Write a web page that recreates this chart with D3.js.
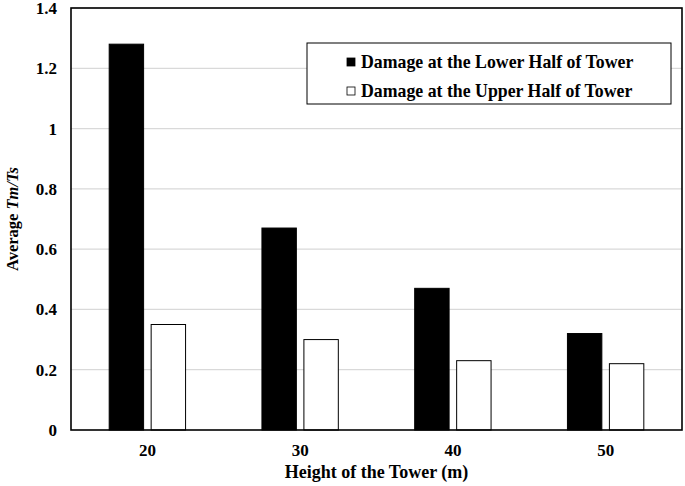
<!DOCTYPE html>
<html>
<head>
<meta charset="utf-8">
<script src="https://cdn.jsdelivr.net/npm/d3@7"></script>
<style>
  body { margin: 0; background: #fff; }
  svg text { font-family: "Liberation Serif", "DejaVu Serif", serif !important; font-weight: bold; fill: #000; }
</style>
</head>
<body>
<div class="chart"></div>
<script>
// data
var heights = ["20", "30", "40", "50"];
var seriesNames = ["Damage at the Lower Half of Tower", "Damage at the Upper Half of Tower"];
var lowerHalf = [1.28, 0.67, 0.47, 0.32];
var upperHalf = [0.35, 0.30, 0.23, 0.22];
var yTicks = [0, 0.2, 0.4, 0.6, 0.8, 1, 1.2, 1.4];
var seriesFill = ["#000", "#fff"];

var width = 685, height = 486;
var margin = { top: 8, left: 71, right: 3, bottom: 56 };

var svg = d3.select(".chart").append("svg").attr("width", width).attr("height", height);

var x0 = d3.scaleBand()
  .domain(heights)
  .range([margin.left, width - margin.right])
  .paddingInner(0.5)
  .paddingOuter(0.25);

var x1 = d3.scaleBand()
  .domain([0, 1])
  .range([0, x0.bandwidth()])
  .paddingInner(0.18);

var y = d3.scaleLinear()
  .domain([0, 1.4])
  .range([height - margin.bottom, margin.top]);

// gridlines
svg.append("g")
  .selectAll("line")
  .data(yTicks.slice(1))
  .enter().append("line")
  .attr("x1", margin.left).attr("x2", width - margin.right)
  .attr("y1", d => y(d)).attr("y2", d => y(d))
  .attr("stroke", "#d9d9d9").attr("stroke-width", 1.3);

// bars
var rows = heights.map((h, i) => ({ h: h, vals: [lowerHalf[i], upperHalf[i]] }));
svg.append("g")
  .selectAll("g")
  .data(rows)
  .enter().append("g")
  .attr("transform", d => "translate(" + x0(d.h) + ",0)")
  .selectAll("rect")
  .data(d => d.vals.map((v, k) => ({ k: k, v: v })))
  .enter().append("rect")
  .attr("x", d => x1(d.k))
  .attr("width", x1.bandwidth())
  .attr("y", d => y(d.v))
  .attr("height", d => y(0) - y(d.v))
  .attr("fill", d => seriesFill[d.k])
  .attr("stroke", "#000")
  .attr("stroke-width", 1);

// plot frame
svg.append("rect")
  .attr("x", margin.left).attr("y", margin.top)
  .attr("width", width - margin.right - margin.left)
  .attr("height", y(0) - margin.top)
  .attr("fill", "none").attr("stroke", "#000").attr("stroke-width", 1.6);

// y axis labels
var yAxis = d3.axisLeft(y).tickValues(yTicks).tickSize(0).tickPadding(14).tickFormat(d3.format("~g"));
svg.append("g")
  .attr("transform", "translate(" + margin.left + ",0)")
  .call(yAxis)
  .call(g => g.select(".domain").remove())
  .attr("font-family", null)
  .selectAll("text")
  .style("font-size", "17px");

// x axis labels
var xAxis = d3.axisBottom(x0).tickSize(0).tickPadding(14);
svg.append("g")
  .attr("transform", "translate(0," + y(0) + ")")
  .call(xAxis)
  .call(g => g.select(".domain").remove())
  .attr("font-family", null)
  .selectAll("text")
  .style("font-size", "17px");

// axis titles
svg.append("text")
  .attr("x", (margin.left + width - margin.right) / 2)
  .attr("y", 478)
  .attr("text-anchor", "middle")
  .style("font-size", "18px")
  .text("Height of the Tower (m)");

var yt = svg.append("text")
  .attr("transform", "translate(18," + ((margin.top + y(0)) / 2) + ") rotate(-90)")
  .attr("text-anchor", "middle")
  .style("font-size", "16.5px");
yt.append("tspan").text("Average ");
yt.append("tspan").style("font-style", "italic").text("Tm/Ts");

// legend
var legend = svg.append("g").attr("transform", "translate(307,43)");
legend.append("rect")
  .attr("width", 364).attr("height", 61)
  .attr("fill", "#fff").attr("stroke", "#000").attr("stroke-width", 1);
seriesNames.forEach(function (name, i) {
  var row = legend.append("g").attr("transform", "translate(0," + (19 + i * 29) + ")");
  row.append("rect")
    .attr("x", 40).attr("y", -4).attr("width", 8).attr("height", 8)
    .attr("fill", seriesFill[i]).attr("stroke", "#000").attr("stroke-width", 0.8);
  row.append("text")
    .attr("x", 54).attr("y", 6)
    .style("font-size", "17.8px")
    .text(name);
});
</script>
</body>
</html>
